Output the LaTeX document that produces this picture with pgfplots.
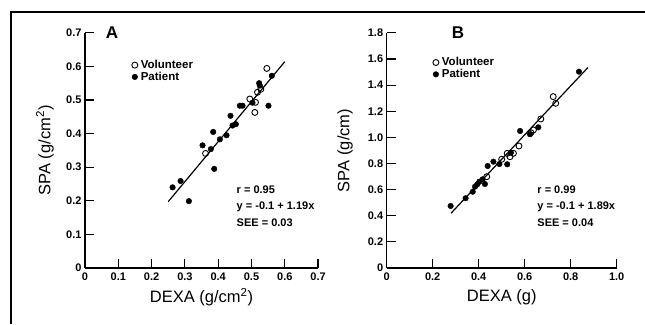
\documentclass[border=0pt]{standalone}
\usepackage{fontspec}
\setmainfont{Liberation Sans}
\usepackage{pgfplots}
\pgfplotsset{compat=1.18}
\begin{document}
\begin{tikzpicture}
\useasboundingbox (0,0) rectangle (645pt,324pt);
\draw[line width=1.6pt] (11pt,0) -- (11pt,312pt) -- (645pt,312pt);
\pgfplotsset{
  myax/.style={
    scale only axis,
    axis x line=bottom, axis y line=left,
    axis line style={-, line width=1.2pt},
    tick align=inside,
    major tick length=9pt,
    every tick/.style={black, line width=1.2pt},
    tick label style={font=\fontsize{11}{12}\selectfont\bfseries},
    xticklabel style={yshift=-1pt},
    label style={font=\fontsize{16.5}{19}\selectfont},
    clip=false,
    legend style={draw=none, fill=none, font=\fontsize{11.5}{13}\selectfont\bfseries,
      inner sep=0pt, row sep=0pt, nodes={inner sep=1pt, inner xsep=3pt}},
    legend cell align=left,
  },
  openm/.style={only marks, mark=o, mark size=3pt, mark options={line width=0.9pt, black}},
  fillm/.style={only marks, mark=*, mark size=2.8pt, mark options={black}},
}
\begin{axis}[myax,
  at={(85pt,56pt)}, anchor=south west,
  width=233.1pt, height=235.2pt,
  xmin=0, xmax=0.7, ymin=0, ymax=0.7,
  xtick={0,0.1,0.2,0.3,0.4,0.5,0.6,0.7},
  xticklabels={0,0.1,0.2,0.3,0.4,0.5,0.6,0.7},
  ytick={0,0.1,0.2,0.3,0.4,0.5,0.6,0.7},
  yticklabels={0,0.1,0.2,0.3,0.4,0.5,0.6,0.7},
  xlabel={DEXA (g/cm\textsuperscript{2})},
  ylabel={SPA (g/cm\textsuperscript{2})},
  xlabel style={at={(axis description cs:0.5,-0.123)}, anchor=center},
  ylabel style={at={(axis description cs:-0.1716,0.5)}, anchor=center},
  legend style={at={(axis cs:0.14,0.622)}, anchor=north west},
]
\addplot[openm] coordinates {
(0.546,0.594) (0.528,0.532) (0.518,0.523) (0.495,0.503) (0.512,0.493)
(0.510,0.463) (0.362,0.341)
};
\addlegendentry{Volunteer}
\addplot[fillm] coordinates {
(0.561,0.572) (0.523,0.550) (0.525,0.543) (0.503,0.492) (0.551,0.483)
(0.465,0.483) (0.473,0.483) (0.437,0.453) (0.443,0.424) (0.453,0.428)
(0.425,0.395) (0.405,0.383) (0.385,0.405) (0.353,0.365) (0.378,0.354)
(0.388,0.295) (0.287,0.259) (0.263,0.240) (0.312,0.199)
};
\addlegendentry{Patient}
\addplot[no marks, line width=1.2pt, forget plot] coordinates {(0.25,0.1975) (0.60,0.614)};
\node[font=\fontsize{17}{19}\selectfont\bfseries, anchor=center] at (axis cs:0.081,0.699) {A};
\node[font=\fontsize{11}{12}\selectfont\bfseries, anchor=west] at (axis cs:0.445,0.232) {r = 0.95};
\node[font=\fontsize{11}{12}\selectfont\bfseries, anchor=west] at (axis cs:0.445,0.182) {y = -0.1 + 1.19x};
\node[font=\fontsize{11}{12}\selectfont\bfseries, anchor=west] at (axis cs:0.445,0.134) {SEE = 0.03};
\end{axis}
\begin{axis}[myax,
  at={(386.7pt,56pt)}, anchor=south west,
  width=230pt, height=235.1pt,
  xmin=0, xmax=1.0, ymin=0, ymax=1.8,
  xtick={0,0.2,0.4,0.6,0.8,1.0},
  xticklabels={0,0.2,0.4,0.6,0.8,1.0},
  ytick={0,0.2,0.4,0.6,0.8,1.0,1.2,1.4,1.6,1.8},
  yticklabels={0,0.2,0.4,0.6,0.8,1.0,1.2,1.4,1.6,1.8},
  xlabel={DEXA (g)},
  ylabel={SPA (g/cm)},
  xlabel style={at={(axis description cs:0.5,-0.123)}, anchor=center},
  ylabel style={at={(axis description cs:-0.181,0.5)}, anchor=center},
  legend style={at={(axis cs:0.2,1.62)}, anchor=north west},
]
\addplot[openm] coordinates {
(0.724,1.312) (0.735,1.261) (0.670,1.141) (0.638,1.057) (0.627,1.036)
(0.575,0.934) (0.551,0.878) (0.536,0.852) (0.524,0.878) (0.500,0.832)
(0.435,0.699)
};
\addlegendentry{Volunteer}
\addplot[fillm] coordinates {
(0.836,1.503) (0.659,1.077) (0.623,1.024) (0.580,1.049) (0.540,0.883)
(0.524,0.794) (0.490,0.796) (0.464,0.814) (0.439,0.781) (0.427,0.643)
(0.417,0.679) (0.403,0.661) (0.394,0.641) (0.384,0.623) (0.374,0.584)
(0.343,0.534) (0.278,0.475)
};
\addlegendentry{Patient}
\addplot[no marks, line width=1.2pt, forget plot] coordinates {(0.28,0.42) (0.875,1.535)};
\node[font=\fontsize{17}{19}\selectfont\bfseries, anchor=center] at (axis cs:0.31,1.8) {B};
\node[font=\fontsize{11}{12}\selectfont\bfseries, anchor=west] at (axis cs:0.64,0.597) {r = 0.99};
\node[font=\fontsize{11}{12}\selectfont\bfseries, anchor=west] at (axis cs:0.64,0.467) {y = -0.1 + 1.89x};
\node[font=\fontsize{11}{12}\selectfont\bfseries, anchor=west] at (axis cs:0.64,0.345) {SEE = 0.04};
\end{axis}
\end{tikzpicture}
\end{document}
